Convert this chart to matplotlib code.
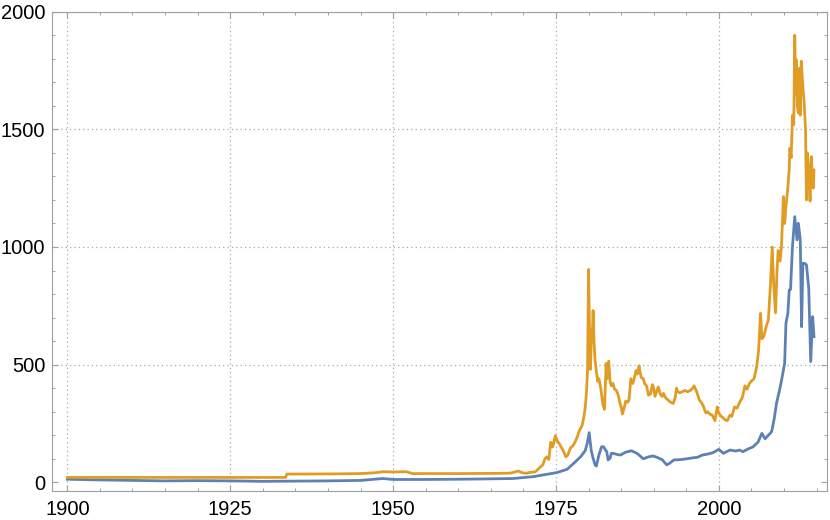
import matplotlib
matplotlib.use("Agg")
import matplotlib.pyplot as plt
from matplotlib.ticker import MultipleLocator

plt.rcParams['font.family'] = ['Liberation Sans', 'DejaVu Sans']

# orange series
gold_years = [1900, 1933.5, 1933.7, 1940, 1945, 1947, 1948.5, 1950, 1952, 1953, 1960, 1966,
              1968, 1968.6, 1969.2, 1969.8, 1970.4, 1971, 1971.8, 1972.5, 1973, 1973.3, 1973.6,
              1973.9, 1974.2, 1974.5, 1974.9, 1975.2, 1975.5, 1975.8, 1976.2, 1976.5, 1976.8,
              1977.2, 1977.6, 1978.0, 1978.3, 1978.6, 1979.0, 1979.3, 1979.5, 1979.7, 1979.85,
              1980.0, 1980.15, 1980.3, 1980.45, 1980.55, 1980.7, 1980.85, 1981.0, 1981.2, 1981.4,
              1981.6, 1981.9, 1982.2, 1982.45, 1982.6, 1982.7, 1982.85, 1983.1, 1983.3, 1983.5,
              1983.75, 1984.0, 1984.3, 1984.5, 1984.8, 1985.0, 1985.2, 1985.5, 1985.7, 1986.0,
              1986.2, 1986.5, 1986.8, 1987.0, 1987.3, 1987.5, 1987.75, 1987.9, 1988.1, 1988.4,
              1988.6, 1988.9, 1989.2, 1989.5, 1989.8, 1990.0, 1990.2, 1990.5, 1990.7, 1991.0,
              1991.3, 1991.5, 1991.8, 1992.2, 1992.6, 1993.0, 1993.3, 1993.5, 1993.7, 1994.0,
              1994.4, 1994.8, 1995.2, 1995.6, 1996.0, 1996.2, 1996.6, 1997.0, 1997.3, 1997.6,
              1998.0, 1998.3, 1998.6, 1999.0, 1999.4, 1999.75, 1999.9, 2000.2, 2000.6, 2001.0,
              2001.3, 2001.7, 2002.0, 2002.4, 2002.8, 2003.2, 2003.6, 2004.0, 2004.3, 2004.7,
              2005.0, 2005.4, 2005.8, 2006.1, 2006.4, 2006.6, 2006.9, 2007.3, 2007.6, 2007.9,
              2008.2, 2008.4, 2008.7, 2008.9, 2009.1, 2009.4, 2009.6, 2009.8, 2009.9, 2010.1,
              2010.3, 2010.6, 2010.8, 2010.9, 2011.1, 2011.3, 2011.5, 2011.65, 2011.8, 2011.9,
              2012.05, 2012.2, 2012.35, 2012.5, 2012.65, 2012.9, 2013.1, 2013.3, 2013.45, 2013.6,
              2013.75, 2013.9, 2014.0, 2014.2, 2014.35, 2014.5, 2014.6]
gold_values = [20.7, 20.7, 35, 35.5, 37, 40, 45, 44, 45, 37, 37, 38,
               39, 43, 48, 41, 38, 42, 44, 62, 75, 100, 108,
               97, 170, 150, 198, 175, 165, 150, 130, 108, 115,
               145, 155, 175, 195, 220, 240, 280, 320, 390, 480,
               905, 640, 480, 650, 600, 730, 590, 520, 470, 430,
               440, 395, 330, 310, 420, 505, 440, 515, 430, 410,
               420, 395, 390, 375, 340, 320, 290, 320, 345, 340,
               350, 440, 420, 440, 475, 460, 495, 470, 445, 440,
               420, 410, 370, 375, 415, 400, 365, 390, 405, 375,
               365, 378, 360, 350, 340, 335, 360, 400, 385, 380,
               385, 390, 385, 390, 400, 410, 385, 350, 340, 325,
               295, 300, 290, 285, 262, 320, 300, 285, 275, 265,
               262, 285, 280, 320, 315, 340, 360, 410, 395, 420,
               430, 440, 490, 560, 718, 610, 620, 665, 690, 830,
               1000, 850, 720, 880, 985, 940, 1000, 1130, 1214, 1100,
               1171, 1256, 1330, 1420, 1380, 1560, 1520, 1900, 1650, 1795,
               1600, 1570, 1760, 1560, 1790, 1680, 1610, 1500, 1200, 1400,
               1340, 1250, 1195, 1384, 1290, 1250, 1327]

# blue series
blue_years = [1900, 1905, 1910, 1915, 1920, 1925, 1930, 1935, 1940, 1945, 1948.4, 1950,
              1955, 1960, 1963.3, 1968.4, 1971.5, 1973.6, 1975.1, 1976.7, 1977.7, 1978.8,
              1979.5, 1979.8, 1980.1, 1980.4, 1980.7, 1981.0, 1981.2, 1981.6, 1982.0, 1982.3,
              1982.6, 1982.8, 1983.0, 1983.3, 1983.5, 1983.8, 1984.4, 1984.9, 1985.7, 1986.6,
              1987.5, 1988.4, 1989.2, 1989.9, 1990.6, 1991.3, 1992.0, 1992.5, 1993.1, 1994.0,
              1995.1, 1996.0, 1996.7, 1997.5, 1998.3, 1999.1, 2000.0, 2000.7, 2001.2, 2001.7,
              2002.6, 2003.2, 2003.7, 2004.5, 2005.2, 2006.0, 2006.6, 2007.1, 2007.6, 2008.1,
              2008.5, 2008.85, 2009.3, 2009.6, 2010.1, 2010.3, 2010.6, 2010.8, 2011.0, 2011.3,
              2011.65, 2012.0, 2012.2, 2012.5, 2012.7, 2012.9, 2013.2, 2013.45, 2013.8, 2014.1,
              2014.4, 2014.6]
blue_values = [13, 10, 8, 6, 7, 6, 4, 5, 6, 8, 16, 12,
               12, 13, 14, 16, 24, 34, 41, 55, 80, 109,
               135, 166, 211, 137, 102, 74, 69, 117, 151, 151,
               137, 130, 95, 102, 123, 123, 118, 116, 128, 134,
               122, 100, 108, 112, 105, 96, 74, 82, 95, 96,
               100, 104, 106, 116, 120, 126, 140, 123, 130, 137,
               133, 137, 130, 142, 150, 170, 208, 185, 200, 215,
               270, 336, 390, 430, 506, 676, 720, 817, 820, 1001,
               1129, 1030, 1101, 1030, 661, 931, 930, 924, 824, 513,
               704, 619]

x_major = [1900, 1925, 1950, 1975, 2000]
y_major = [0, 500, 1000, 1500, 2000]

fig = plt.figure(figsize=(8.3, 5.2), dpi=100)
ax = fig.add_axes([51.7 / 830, 1 - 491 / 520, (827 - 51.7) / 830, (491 - 11.7) / 520])

ax.plot(blue_years, blue_values, color='#5E81B5', lw=2.0, solid_joinstyle='round')
ax.plot(gold_years, gold_values, color='#E19C24', lw=2.0, solid_joinstyle='round')

ax.set_xlim(1897.6, 2016.6)
ax.set_ylim(-37, 2000)
ax.set_xticks(x_major)
ax.set_yticks(y_major)
ax.xaxis.set_minor_locator(MultipleLocator(5))
ax.yaxis.set_minor_locator(MultipleLocator(100))

for x in x_major:
    ax.axvline(x, color='#a8a8a8', lw=0.9, ls=(0, (1, 2.5)), zorder=0)
for y in y_major[1:]:
    ax.axhline(y, color='#a8a8a8', lw=0.9, ls=(0, (1, 2.5)), zorder=0)

for s in ax.spines.values():
    s.set_color('#a0a0a0')
    s.set_linewidth(0.8)
ax.tick_params(which='both', direction='in', top=True, right=True, color='#a0a0a0',
               labelsize=14.5, labelcolor='black')
ax.tick_params(which='major', length=4, width=0.8)
ax.tick_params(which='minor', length=2.3, width=0.7)
ax.tick_params(axis='x', pad=6.5)
ax.tick_params(axis='y', pad=4.5)

fig.savefig('out.png', dpi=100)
